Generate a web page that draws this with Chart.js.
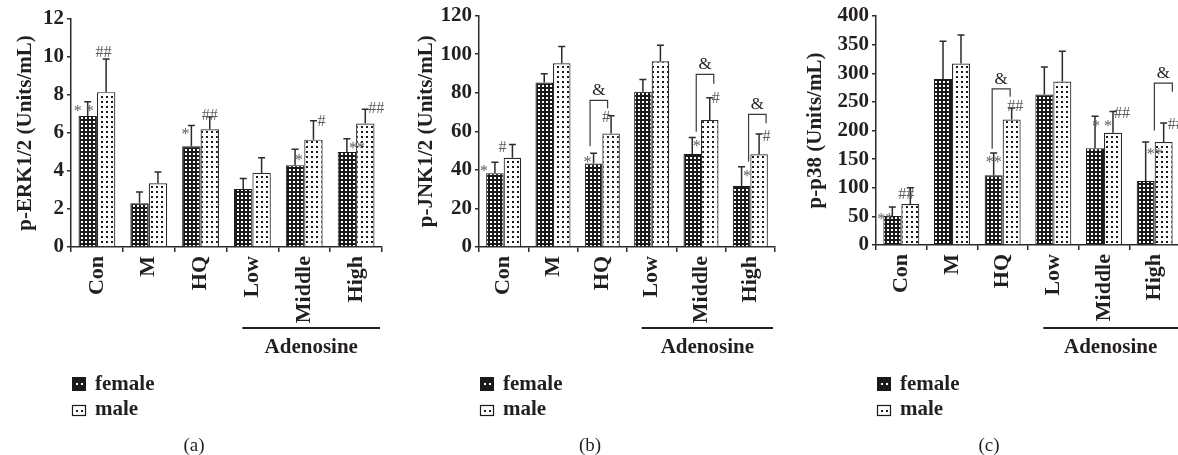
<!DOCTYPE html>
<html>
<head>
<meta charset="utf-8">
<script src="https://cdn.jsdelivr.net/npm/chart.js@4.4.1/dist/chart.umd.min.js"></script>
<style>
  html, body { margin: 0; padding: 0; background: #fff; }
  body { position: relative; width: 1178px; height: 455px; overflow: hidden; }
  .panel { position: absolute; top: 0; }
  .caption {
    position: absolute; top: 434px; width: 40px; line-height: 20px;
    text-align: center; font: 19px "Liberation Serif", serif; color: #231f20;
  }
</style>
</head>
<body>
<canvas class="panel" id="erk" width="392" height="455" style="left:0"></canvas>
<canvas class="panel" id="jnk" width="382" height="455" style="left:401px"></canvas>
<canvas class="panel" id="p38" width="400" height="455" style="left:790px"></canvas>
<div class="caption" style="left:174px">(a)</div>
<div class="caption" style="left:570px">(b)</div>
<div class="caption" style="left:969px">(c)</div>

<script>
const groups = ["Con", "M", "HQ", "Low", "Middle", "High"];

// p-ERK1/2
const erkFemale = [6.9, 2.3, 5.3, 3.05, 4.3, 5.0];
const erkFemaleSd = [0.75, 0.6, 1.1, 0.55, 0.85, 0.7];
const erkMale = [8.15, 3.35, 6.2, 3.9, 5.65, 6.5];
const erkMaleSd = [1.75, 0.6, 0.65, 0.8, 1.0, 0.75];
const erkFemaleSig = ["* *", "", "*", "", "*", "**"];
const erkMaleSig = ["##", "", "##", "", "#", "##"];

// p-JNK1/2
const jnkFemale = [38.2, 85.3, 43.3, 80.5, 48.2, 31.6];
const jnkFemaleSd = [5.7, 4.5, 5.3, 6.3, 8.6, 10.0];
const jnkMale = [46.3, 95.3, 58.8, 96.3, 65.8, 48.1];
const jnkMaleSd = [6.9, 8.7, 9.3, 8.3, 11.6, 10.5];
const jnkFemaleSig = ["*", "", "*", "", "*", "*"];
const jnkMaleSig = ["#", "", "#", "", "#", "#"];

// p-p38
const p38Female = [50.5, 290, 122, 263, 169, 112];
const p38FemaleSd = [16, 66, 38.5, 48, 56, 68];
const p38Male = [71.5, 317, 219, 285.5, 196, 180];
const p38MaleSd = [28.5, 50, 20.5, 53, 37, 33];
const p38FemaleSig = ["**", "", "**", "", "* *", "**"];
const p38MaleSig = ["##", "", "##", "", "##", "##"];

const Config = {
  colors: {
    ink: "#231f20",
    line: "#2b2b2b",
    mark: "#5d5d5f",
  },
  family: '"Liberation Serif", "Times New Roman", serif',
};

Chart.defaults.color = Config.colors.ink;
Chart.defaults.font.family = Config.family;

// dotted fills: black with white dots, white with black dots
const makePattern = (bg, fg, w, h) => {
  const c = document.createElement("canvas");
  c.width = w;
  c.height = h;
  const g = c.getContext("2d");
  g.fillStyle = bg;
  g.fillRect(0, 0, w, h);
  g.fillStyle = fg;
  g.fillRect(1, 1, 2, 2);
  return g.createPattern(c, "repeat");
};
const darkDots = makePattern("#1a1a1a", "#ffffff", 4, 4);
const lightDots = makePattern("#ffffff", "#1a1a1a", 5, 5);

const extras = {
  id: "extras",
  afterDatasetsDraw(chart, args, o) {
    const { ctx, chartArea, scales: { x, y } } = chart;
    ctx.save();

    // error bars (upper only)
    chart.data.datasets.forEach((ds, di) => {
      const meta = chart.getDatasetMeta(di);
      meta.data.forEach((bar, i) => {
        const cap = y.getPixelForValue(ds.data[i] + ds.sd[i]);
        ctx.strokeStyle = Config.colors.line;
        ctx.lineWidth = 1.5;
        ctx.beginPath();
        ctx.moveTo(bar.x, bar.y);
        ctx.lineTo(bar.x, cap);
        ctx.moveTo(bar.x - 3.5, cap);
        ctx.lineTo(bar.x + 3.5, cap);
        ctx.stroke();

        const text = ds.sig[i];
        const off = o.offsets[di][i];
        if (text && off) {
          ctx.fillStyle = Config.colors.mark;
          ctx.font = "16px " + Config.family;
          ctx.textAlign = "center";
          ctx.textBaseline = "alphabetic";
          const lift = text.includes("*") ? 9 : 5;
          ctx.fillText(text, bar.x + off[0], cap + off[1] + lift);
        }
      });
    });

    // brackets with "&"
    const f = chart.getDatasetMeta(0).data;
    const m = chart.getDatasetMeta(1).data;
    o.brackets.forEach((b) => {
      const xl = f[b.cat].x + b.dx;
      const xr = m[b.cat].x + b.dx;
      const yt = y.getPixelForValue(b.top);
      ctx.strokeStyle = "#3a3a3a";
      ctx.lineWidth = 1.2;
      ctx.beginPath();
      ctx.moveTo(xl, y.getPixelForValue(b.left));
      ctx.lineTo(xl, yt);
      ctx.lineTo(xr, yt);
      ctx.lineTo(xr, y.getPixelForValue(b.right));
      ctx.stroke();
      ctx.fillStyle = Config.colors.ink;
      ctx.font = "17px " + Config.family;
      ctx.textAlign = "center";
      ctx.textBaseline = "alphabetic";
      ctx.fillText("&", (xl + xr) / 2, yt - 5);
    });

    // Adenosine group line
    const x0 = x.getPixelForValue(3) - 10;
    const x1 = chartArea.right - 2;
    ctx.strokeStyle = Config.colors.ink;
    ctx.lineWidth = 2;
    ctx.beginPath();
    ctx.moveTo(x0, 328);
    ctx.lineTo(x1, 328);
    ctx.stroke();
    ctx.fillStyle = Config.colors.ink;
    ctx.font = "bold 21px " + Config.family;
    ctx.textAlign = "center";
    ctx.textBaseline = "alphabetic";
    ctx.fillText("Adenosine", (x0 + x1) / 2, 353);

    // legend
    const lx = chartArea.left + 1;
    ctx.fillStyle = "#1a1a1a";
    ctx.fillRect(lx, 377, 14, 14);
    ctx.fillStyle = "#fff";
    ctx.fillRect(lx + 4, 383, 2, 2);
    ctx.fillRect(lx + 9, 383, 2, 2);
    ctx.fillStyle = "#fff";
    ctx.fillRect(lx, 405, 14, 11);
    ctx.strokeStyle = "#1a1a1a";
    ctx.lineWidth = 1.2;
    ctx.strokeRect(lx + 0.5, 405.5, 13, 10);
    ctx.fillStyle = "#1a1a1a";
    ctx.fillRect(lx + 4, 410, 2, 2);
    ctx.fillRect(lx + 9, 410, 2, 2);
    ctx.fillStyle = Config.colors.ink;
    ctx.font = "bold 21px " + Config.family;
    ctx.textAlign = "left";
    ctx.fillText(o.labels[0], lx + 23, 390);
    ctx.fillText(o.labels[1], lx + 23, 415);

    ctx.restore();
  },
};

const loadChart = (id, p) => {
  new Chart(document.getElementById(id), {
    type: "bar",
    data: {
      labels: groups,
      datasets: [
        {
          label: "female",
          data: p.female,
          sd: p.femaleSd,
          sig: p.femaleSig,
          backgroundColor: darkDots,
          borderColor: "#1a1a1a",
          borderWidth: 1,
        },
        {
          label: "male",
          data: p.male,
          sd: p.maleSd,
          sig: p.maleSig,
          backgroundColor: lightDots,
          borderColor: "#2a2a2a",
          borderWidth: 1.2,
        },
      ],
    },
    options: {
      responsive: false,
      animation: false,
      events: [],
      categoryPercentage: 0.71,
      barPercentage: 1,
      layout: {
        padding: { top: p.top, right: p.right, bottom: 0, left: 0 },
      },
      scales: {
        x: {
          grid: {
            offset: true,
            drawOnChartArea: false,
            tickLength: 5,
            color: Config.colors.line,
            lineWidth: 1.5,
          },
          border: { color: Config.colors.line, width: 1.5 },
          ticks: {
            autoSkip: false,
            minRotation: 90,
            maxRotation: 90,
            padding: 4,
            color: Config.colors.ink,
            font: { size: 22, weight: "bold" },
          },
          afterFit: (s) => {
            s.height = 455 - p.bottom;
          },
        },
        y: {
          min: 0,
          max: p.max,
          ticks: {
            stepSize: p.step,
            padding: 3,
            color: Config.colors.ink,
            font: { size: 21, weight: "bold" },
          },
          grid: {
            drawOnChartArea: false,
            tickLength: 4,
            color: Config.colors.line,
            lineWidth: 1.5,
          },
          border: { color: Config.colors.line, width: 1.5 },
          title: {
            display: true,
            text: p.title,
            color: Config.colors.ink,
            padding: { top: 13, bottom: 0 },
            font: { size: 21, weight: "bold", lineHeight: 1.2 },
          },
          afterFit: (s) => {
            s.width = p.yWidth;
          },
        },
      },
      plugins: {
        legend: { display: false },
        tooltip: { enabled: false },
        extras: {
          offsets: p.offsets,
          brackets: p.brackets,
          labels: ["female", "male"],
        },
      },
    },
    plugins: [extras],
  });
};

loadChart("erk", {
  female: erkFemale, femaleSd: erkFemaleSd, femaleSig: erkFemaleSig,
  male: erkMale, maleSd: erkMaleSd, maleSig: erkMaleSig,
  title: "p-ERK1/2 (Units/mL)",
  max: 12, step: 2,
  top: 19, bottom: 247, right: 10, yWidth: 71,
  offsets: [
    [[-4, 5], null, [-6, 4.6], null, [4, 7], [10, 5.5]],
    [[-2.5, -7], null, [0, -2.3], null, [8, 0], [11, -1]],
  ],
  brackets: [],
});

loadChart("jnk", {
  female: jnkFemale, femaleSd: jnkFemaleSd, femaleSig: jnkFemaleSig,
  male: jnkMale, maleSd: jnkMaleSd, maleSig: jnkMaleSig,
  title: "p-JNK1/2 (Units/mL)",
  max: 120, step: 20,
  top: 15, bottom: 247, right: 8, yWidth: 78,
  offsets: [
    [[-11, 5], null, [-6, 5], null, [4.5, 5], [5.5, 5.7]],
    [[-10, 2.7], null, [-5, 1], null, [6, 0], [7.5, 2]],
  ],
  brackets: [
    { cat: 2, top: 76, left: 52.3, right: 72, dx: -3.5 },
    { cat: 4, top: 89.5, left: 59.8, right: 84.6, dx: 4 },
    { cat: 5, top: 68.8, left: 44.4, right: 64.2, dx: 7 },
  ],
});

loadChart("p38", {
  female: p38Female, femaleSd: p38FemaleSd, femaleSig: p38FemaleSig,
  male: p38Male, maleSd: p38MaleSd, maleSig: p38MaleSig,
  title: "p-p38 (Units/mL)",
  max: 400, step: 50,
  top: 16, bottom: 245, right: 10, yWidth: 86,
  offsets: [
    [[-7, 8.4], null, [0, 5], null, [7, 6], [9, 8]],
    [[-4, 6], null, [3.6, -2.3], null, [9, 1.8], [12, 0.7]],
  ],
  brackets: [
    { cat: 2, top: 272.7, left: 168, right: 259, dx: -1.5 },
    { cat: 5, top: 282.6, left: 200, right: 267.8, dx: 8.7 },
  ],
});
</script>
</body>
</html>
